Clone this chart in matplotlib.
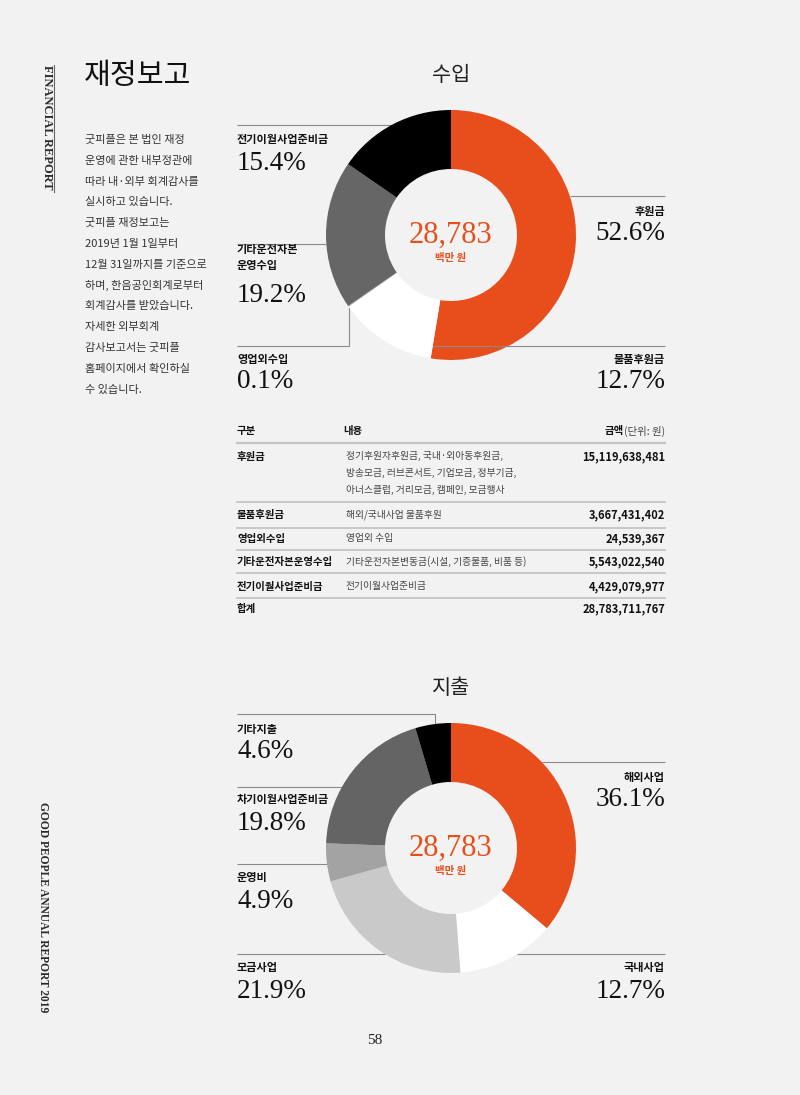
import matplotlib
matplotlib.use("Agg")
import matplotlib.pyplot as plt

BG = "#f2f2f2"
ORANGE = "#e84e1c"
KR = ["Noto Sans CJK KR", "DejaVu Sans"]
SERIF = ["Liberation Serif", "DejaVu Serif"]

# 수입 (income) donut
income_labels = ["후원금", "물품후원금", "영업외수입", "기타운전자본\n운영수입", "전기이월사업준비금"]
income_values = [52.6, 12.7, 0.1, 19.2, 15.4]
income_colors = [ORANGE, "#ffffff", "#9a9a9a", "#666666", "#000000"]

# 지출 (expense) donut
expense_labels = ["해외사업", "국내사업", "모금사업", "운영비", "차기이월사업준비금", "기타지출"]
expense_values = [36.1, 12.7, 21.9, 4.9, 19.8, 4.6]
expense_colors = [ORANGE, "#ffffff", "#c9c9c9", "#a3a3a3", "#646464", "#000000"]

total_mil = 28783

# table
table_categories = ["후원금", "물품후원금", "영업외수입", "기타운전자본운영수입", "전기이월사업준비금", "합계"]
table_details = [
    "정기후원자후원금, 국내·외아동후원금,\n방송모금, 러브콘서트, 기업모금, 정부기금,\n아너스클럽, 거리모금, 캠페인, 모금행사",
    "해외/국내사업 물품후원",
    "영업외 수입",
    "기타운전자본변동금(시설, 기증물품, 비품 등)",
    "전기이월사업준비금",
    "",
]
table_amounts = ["15,119,638,481", "3,667,431,402", "24,539,367",
                 "5,543,022,540", "4,429,079,977", "28,783,711,767"]

intro_lines = [
    "굿피플은 본 법인 재정", "운영에 관한 내부정관에", "따라 내·외부 회계감사를",
    "실시하고 있습니다.", "굿피플 재정보고는", "2019년 1월 1일부터",
    "12월 31일까지를 기준으로", "하며, 한음공인회계로부터", "회계감사를 받았습니다.",
    "자세한 외부회계", "감사보고서는 굿피플", "홈페이지에서 확인하실", "수 있습니다.",
]

fig = plt.figure(figsize=(8, 10.95), dpi=100, facecolor=BG)
ax = fig.add_axes([0, 0, 1, 1])
ax.set_facecolor(BG)

LINE = "#8a8a8a"
R = 125


def donut(cx, cy, values, colors, title):
    ax.pie(values, colors=colors, center=(cx, cy), radius=R, startangle=-90,
           counterclock=True, frame=True,
           wedgeprops=dict(width=59, linewidth=0, zorder=3))
    ax.text(cx, cy - 160, title, family=KR, fontsize=15, ha="center", va="center", color="#222")
    ax.text(cx, cy, f"{total_mil:,}", family=SERIF, fontsize=22, ha="center", va="center",
            color=ORANGE)
    ax.text(cx, cy + 23, "백만 원", family=KR, fontsize=7.5, weight="bold", ha="center",
            va="center", color=ORANGE)


def label(x, y, name, pct, ha):
    ax.text(x, y, name, family=KR, fontsize=8, weight="bold", ha=ha, va="center",
            color="#111", linespacing=1.3)
    nlines = name.count("\n")
    ax.text(x, y + 23 + nlines * 14, f"{pct}%", family=SERIF, fontsize=19.5, ha=ha,
            va="center", color="#111")


def leader(xs, ys, z=1):
    ax.plot(xs, ys, color=LINE, lw=0.8, zorder=z, solid_capstyle="butt")


def edge(cx, cy, y, side):
    # x where a horizontal line at y meets the outer ring
    dx = max(R * R - (y - cy) ** 2, 0) ** 0.5
    return cx + side * dx


# income donut
cx, cy = 451, 235
donut(cx, cy, income_values, income_colors, "수입")
leader([237, edge(cx, cy, 125, -1)], [125, 125])
leader([edge(cx, cy, 196, 1), 665], [196, 196])
leader([237, edge(cx, cy, 244, -1)], [244, 244])
leader([237, 349, 349], [346, 346, 307])
leader([433, 665], [346, 346], z=4)
label(665, 211, income_labels[0], income_values[0], "right")
label(665, 359, income_labels[1], income_values[1], "right")
label(237, 359, income_labels[2], income_values[2], "left")
label(237, 258, income_labels[3], income_values[3], "left")
label(237, 140, income_labels[4], income_values[4], "left")

# expense donut
cx, cy = 451, 848
donut(cx, cy, expense_values, expense_colors, "지출")
leader([edge(cx, cy, 762, 1), 665], [762, 762])
leader([edge(cx, cy, 954, 1), 665], [954, 954])
leader([237, edge(cx, cy, 954, -1)], [954, 954])
leader([237, edge(cx, cy, 864, -1)], [864, 864])
leader([237, edge(cx, cy, 787, -1)], [787, 787])
leader([237, 435, 435], [714, 714, 726])
label(665, 777, expense_labels[0], expense_values[0], "right")
label(665, 968, expense_labels[1], expense_values[1], "right")
label(237, 968, expense_labels[2], expense_values[2], "left")
label(237, 878, expense_labels[3], expense_values[3], "left")
label(237, 800, expense_labels[4], expense_values[4], "left")
label(237, 729, expense_labels[5], expense_values[5], "left")

# table
ax.text(237, 431, "구분", family=KR, fontsize=7.5, weight="bold", va="center", color="#111")
ax.text(343, 431, "내용", family=KR, fontsize=7.5, weight="bold", va="center", color="#111")
unit = ax.text(665, 431, "(단위: 원)", family=KR, fontsize=7.5, ha="right", va="center",
               color="#444")
ax.annotate("금액", xy=(0, 0.5), xycoords=unit, family=KR, fontsize=7.5, weight="bold",
            ha="right", va="center", color="#111")
ax.plot([237, 665], [443, 443], color="#c4c4c4", lw=1.6)
row_y = [457, 515, 539, 562, 587, 609]
rule_y = [502, 528, 550, 573, 598]
for i, (cat, det, amt) in enumerate(zip(table_categories, table_details, table_amounts)):
    y = row_y[i]
    ax.text(237, y, cat, family=KR, fontsize=7.5, weight="bold", va="center", color="#111")
    ax.text(346, y - 6, det, family=KR, fontsize=7, va="top", color="#444", linespacing=1.85)
    ax.text(665, y, amt, family=KR, fontsize=8, weight="bold", ha="right", va="center",
            color="#111")
for y in rule_y:
    ax.plot([237, 665], [y, y], color="#c4c4c4", lw=1.3)

# left column
ax.text(84, 76, "재정보고", family=KR, fontsize=21, va="center", color="#111")
for i, line in enumerate(intro_lines):
    ax.text(85, 140 + i * 20.8, line, family=KR, fontsize=8, va="center", color="#333")

ax.text(47, 65, "FINANCIAL REPORT", family=SERIF, fontsize=9, weight="bold",
        rotation=270, ha="center", va="top", color="#2a2a2a")
ax.plot([54, 54], [65, 192], color="#666", lw=0.8)
ax.text(43, 802, "GOOD PEOPLE ANNUAL REPORT 2019", family=SERIF, fontsize=8.3,
        weight="bold", rotation=270, ha="center", va="top", color="#2a2a2a")
ax.text(375, 1040, "58", family=SERIF, fontsize=11, ha="center", va="center", color="#222")

ax.set_xlim(0, 800)
ax.set_ylim(1095, 0)
ax.set_aspect("auto")
ax.axis("off")

fig.savefig("out.png", dpi=100, facecolor=BG)
